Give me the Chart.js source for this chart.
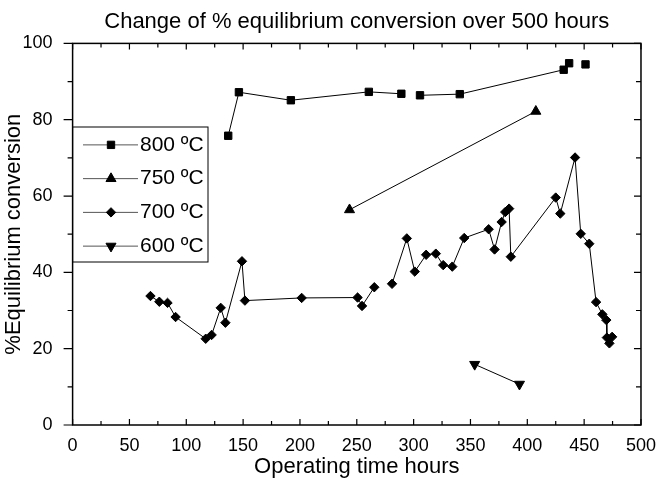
<!DOCTYPE html>
<html>
<head>
<meta charset="utf-8">
<script src="https://cdn.jsdelivr.net/npm/chart.js@4.4.1/dist/chart.umd.min.js"></script>
<style>
  html, body { margin: 0; padding: 0; background: #fff; }
  #wrap { width: 658px; height: 479px; }
</style>
</head>
<body>
<div id="wrap"><canvas id="chart" width="658" height="479"></canvas></div>
<script>
/* Change of % equilibrium conversion over 500 hours — Chart.js rebuild */

// ─── Data ────────────────────────────────────────────────────────────────────

const TITLE = 'Change of % equilibrium conversion over 500 hours';
const X_TITLE = 'Operating time hours';
const Y_TITLE = '%Equilibrium conversion';

const LABEL_800 = '800 ºC';
const HOURS_800 = [136.9, 146.3, 192.0, 260.6, 289.2, 305.6, 340.6, 432.0, 436.8, 451.2];
const CONV_800  = [75.8, 87.2, 85.1, 87.3, 86.8, 86.4, 86.7, 93.1, 94.8, 94.5];
const BREAKS_800 = [4, 8]; // no line after these points

const LABEL_750 = '750 ºC';
const HOURS_750 = [243.6, 407.5];
const CONV_750  = [56.4, 82.2];

const LABEL_700 = '700 ºC';
const HOURS_700 = [68.5, 76.3, 83.5, 90.6, 117.1, 122.3, 130.3, 134.4, 149.0, 151.6,
                   201.5, 250.7, 254.6, 265.4, 281.0, 294.0, 301.0, 311.0, 319.5, 326.0,
                   334.0, 344.5, 366.0, 371.2, 377.4, 380.6, 384.0, 385.5, 425.0, 429.0,
                   442.0, 447.0, 454.5, 460.5, 466.0, 469.5, 470.0, 472.2, 474.6];
const CONV_700  = [33.8, 32.3, 32.0, 28.3, 22.6, 23.6, 30.7, 26.8, 42.9, 32.6,
                   33.3, 33.4, 31.2, 36.1, 37.0, 48.9, 40.2, 44.6, 44.9, 41.9,
                   41.5, 49.0, 51.3, 46.0, 53.2, 55.8, 56.7, 44.1, 59.6, 55.4,
                   70.1, 50.1, 47.5, 32.2, 29.0, 27.5, 22.9, 21.4, 23.1];
const BREAKS_700 = [13];

const LABEL_600 = '600 ºC';
const HOURS_600 = [353.7, 393.1];
const CONV_600  = [15.9, 10.7];

const X_MIN = 0, X_MAX = 500, X_STEP = 50, X_MINOR = 25;
const Y_MIN = 0, Y_MAX = 100, Y_STEP = 20, Y_MINOR = 10;

// ─── Helpers ─────────────────────────────────────────────────────────────────

const FONT = "'Liberation Sans', Arial, Helvetica, sans-serif";
Chart.defaults.font.family = FONT;
Chart.defaults.color = '#000';

function toPoints(xs, ys) {
  return xs.map((x, i) => ({ x, y: ys[i] }));
}

function makeSeries(label, xs, ys, style, breaks = []) {
  return {
    label,
    data: toPoints(xs, ys),
    showLine: true,
    borderColor: '#000',
    borderWidth: 1,
    backgroundColor: '#000',
    pointBackgroundColor: '#000',
    pointBorderColor: '#000',
    pointBorderWidth: 1,
    pointStyle: style.shape,
    pointRotation: style.rotation || 0,
    pointRadius: style.radius,
    pointHoverRadius: style.radius,
    segment: {
      borderColor: ctx => breaks.includes(ctx.p0DataIndex) ? 'rgba(0,0,0,0)' : '#000',
    },
  };
}

// ─── Plugins: frame with ticks, boxed legend ─────────────────────────────────

const frameTicks = {
  id: 'frameTicks',
  afterDraw(chart) {
    const { ctx, chartArea: a, scales: { x, y } } = chart;
    ctx.save();
    ctx.strokeStyle = '#000';
    ctx.lineWidth = 1.5;
    ctx.strokeRect(a.left, a.top, a.right - a.left, a.bottom - a.top);

    ctx.lineWidth = 1.2;
    ctx.beginPath();
    for (let v = X_MIN; v <= X_MAX; v += X_MINOR) {
      const px = x.getPixelForValue(v);
      const len = v % X_STEP === 0 ? 6 : 4;
      ctx.moveTo(px, a.bottom); ctx.lineTo(px, a.bottom - len);
      ctx.moveTo(px, a.top);    ctx.lineTo(px, a.top + len);
    }
    for (let v = Y_MIN; v <= Y_MAX; v += Y_MINOR) {
      const py = y.getPixelForValue(v);
      const major = v % Y_STEP === 0;
      ctx.moveTo(a.left, py);  ctx.lineTo(a.left - (major ? 9 : 5), py);
      ctx.moveTo(a.right, py); ctx.lineTo(a.right - (major ? 7 : 5), py);
    }
    ctx.stroke();
    ctx.restore();
  },
};

const boxedLegend = {
  id: 'boxedLegend',
  afterDatasetsDraw(chart) {
    const { ctx, chartArea: a } = chart;
    const left = a.left, right = 208, top = 127, bottom = 262;
    const rowH = (bottom - top) / chart.data.datasets.length;

    ctx.save();
    ctx.fillStyle = '#fff';
    ctx.fillRect(left, top, right - left, bottom - top);
    ctx.strokeStyle = '#000';
    ctx.lineWidth = 1;
    ctx.strokeRect(left, top, right - left, bottom - top);

    chart.data.datasets.forEach((ds, i) => {
      const cy = top + rowH * (i + 0.5) + 1;
      ctx.strokeStyle = '#555';
      ctx.lineWidth = 1;
      ctx.beginPath();
      ctx.moveTo(83, cy);
      ctx.lineTo(138, cy);
      ctx.stroke();

      ctx.fillStyle = '#000';
      ctx.strokeStyle = '#000';
      Chart.helpers.drawPoint(ctx, {
        pointStyle: ds.pointStyle,
        rotation: ds.pointRotation,
        radius: ds.pointRadius,
        borderWidth: 1,
      }, 111, cy);

      ctx.fillStyle = '#000';
      ctx.font = `21px ${FONT}`;
      ctx.textBaseline = 'middle';
      ctx.textAlign = 'left';
      ctx.fillText(ds.label, 140, cy);
    });
    ctx.restore();
  },
};

// ─── Chart ───────────────────────────────────────────────────────────────────

new Chart(document.getElementById('chart'), {
  type: 'scatter',
  data: {
    datasets: [
      makeSeries(LABEL_800, HOURS_800, CONV_800, { shape: 'rect', radius: 5.2 }, BREAKS_800),
      makeSeries(LABEL_750, HOURS_750, CONV_750, { shape: 'triangle', radius: 5.8 }),
      makeSeries(LABEL_700, HOURS_700, CONV_700, { shape: 'rectRot', radius: 4.7 }, BREAKS_700),
      makeSeries(LABEL_600, HOURS_600, CONV_600, { shape: 'triangle', rotation: 180, radius: 5.8 }),
    ],
  },
  options: {
    responsive: false,
    animation: false,
    devicePixelRatio: 1,
    layout: { padding: { left: 0, right: 16.3, top: 0, bottom: 0 } },
    plugins: {
      legend: { display: false },
      tooltip: { enabled: false },
      title: {
        display: true,
        text: TITLE,
        fullSize: false,
        color: '#000',
        font: { size: 22, weight: 'normal', family: FONT },
        padding: { top: 9, bottom: 8 },
      },
    },
    scales: {
      x: {
        type: 'linear',
        min: X_MIN,
        max: X_MAX,
        grid: { display: false },
        border: { display: false },
        ticks: { stepSize: X_STEP, padding: 2, color: '#000', font: { size: 18 } },
        title: {
          display: true,
          text: X_TITLE,
          color: '#000',
          font: { size: 22, lineHeight: 1 },
          padding: { top: 0, bottom: 1 },
        },
        afterFit: s => { s.height = 54; },
      },
      y: {
        type: 'linear',
        min: Y_MIN,
        max: Y_MAX,
        grid: { display: false },
        border: { display: false },
        ticks: { stepSize: Y_STEP, padding: 12, color: '#000', font: { size: 18 } },
        title: {
          display: true,
          text: Y_TITLE,
          color: '#000',
          font: { size: 22 },
          padding: { top: 1, bottom: 0 },
        },
        afterFit: s => { s.width = 72.6; },
      },
    },
  },
  plugins: [frameTicks, boxedLegend],
});
</script>
</body>
</html>
